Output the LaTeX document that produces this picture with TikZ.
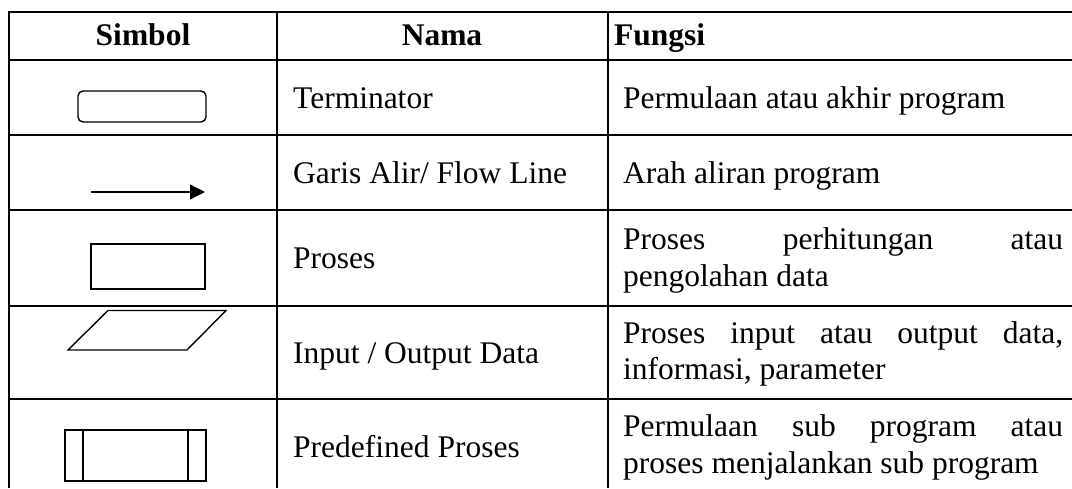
\documentclass[tikz,border=0pt]{standalone}
\usepackage{fontspec}
\setmainfont{Liberation Serif}
\usetikzlibrary{arrows.meta}
\begin{document}
\begin{tikzpicture}[x=1pt,y=-1pt,
  gridline/.style={line width=2pt},
  sym/.style={line width=1.4pt, line join=miter},
  txt/.style={anchor=base west, inner sep=0pt, font=\fontsize{31.5}{36.5}\selectfont},
  hdr/.style={anchor=base, inner sep=0pt, font=\fontsize{31.5}{36.5}\selectfont\bfseries}]
\useasboundingbox (0,0) rectangle (1072,488);
% table rules
\draw[gridline] (1072,12) -- (8.5,12) -- (8.5,488);
\foreach \y in {60,135,210,306,399} \draw[gridline] (8.5,\y) -- (1072,\y);
\draw[gridline] (277,12) -- (277,488);
\draw[gridline] (607.5,12) -- (607.5,488);
% header
\node[hdr] (h1) at (143,45) {Simbol};
\node[hdr] (h2) at (442,45) {Nama};
\node[hdr, anchor=base west] (h3) at (614,45) {Fungsi};
% names
\node[txt] (n1) at (293,108) {Terminator};
\node[txt] (n2) at (293,183) {Garis Alir/ Flow Line};
\node[txt] (n3) at (293,268) {Proses};
\node[txt] (n4) at (293,363) {Input / Output Data};
\node[txt] (n5) at (293,457) {Predefined Proses};
% functions
\node[txt] (f1) at (623,108) {Permulaan atau akhir program};
\node[txt] (f2) at (623,183) {Arah aliran program};
\node[txt] (f3a) at (623,249) {\makebox[440pt][s]{Proses perhitungan atau}};
\node[txt] (f3b) at (623,286) {pengolahan data};
\node[txt] (f4a) at (623,343) {\makebox[440pt][s]{Proses input atau output data,}};
\node[txt] (f4b) at (623,379) {informasi, parameter};
\node[txt] (f5a) at (623,436) {\makebox[440pt][s]{Permulaan sub program atau}};
\node[txt] (f5b) at (623,473) {proses menjalankan sub program};
% symbols
\draw[sym, rounded corners=5pt] (78,91) rectangle (206,122);
\coordinate (a1) at (91,192);
\coordinate (a2) at (205,192);
\draw[line width=1.3pt, -{Triangle[length=15pt,width=15pt]}] (a1) -- (a2);
\draw[sym] (91,244) rectangle (205,289);
\draw[sym] (108,310.5) -- (226,310.5) -- (187,350) -- (68,350) -- cycle;
\draw[sym] (65,430) rectangle (206,481);
\draw[sym] (83,430) -- (83,481);
\draw[sym] (188,430) -- (188,481);
\end{tikzpicture}
\end{document}
